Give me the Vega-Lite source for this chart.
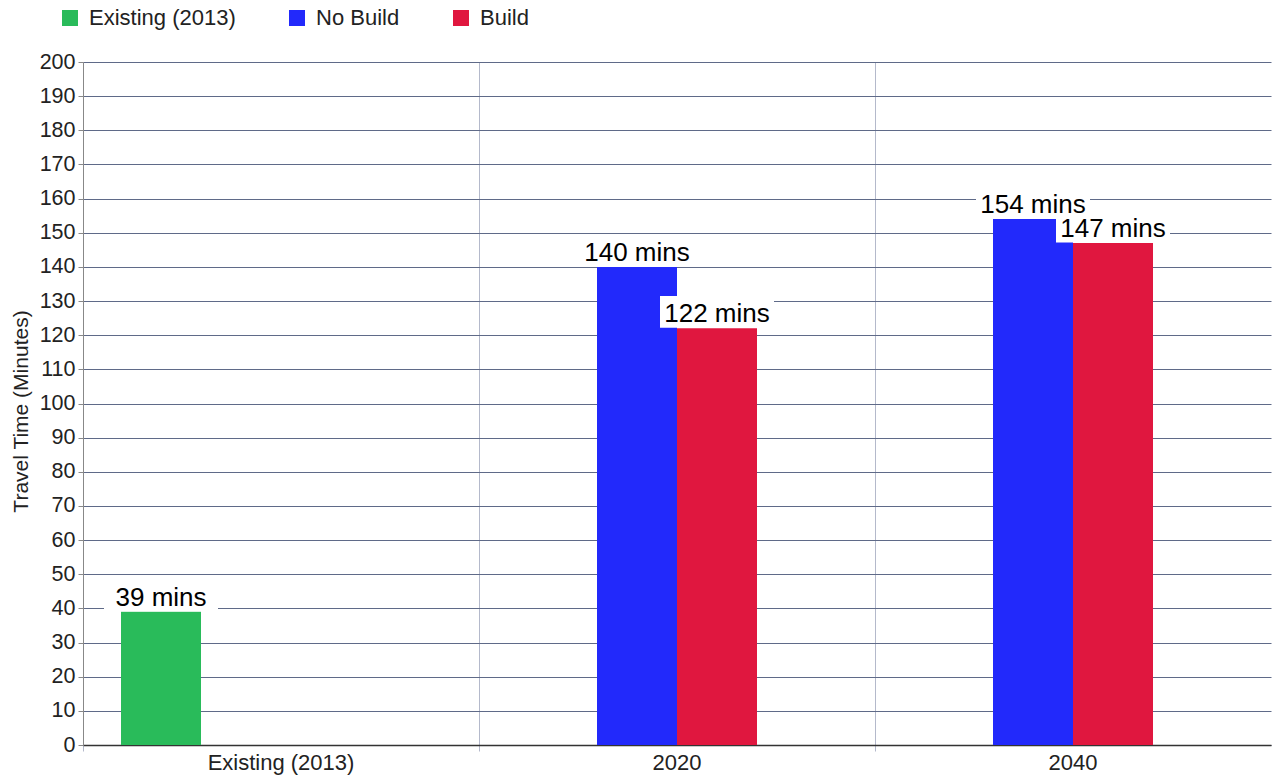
{
  "$schema": "https://vega.github.io/schema/vega-lite/v6.json",
  "width": 1188,
  "height": 683,
  "autosize": "none",
  "padding": {"left": 83, "top": 62, "right": 6, "bottom": 33},
  "background": "white",
  "config": {
    "font": "Liberation Sans",
    "view": {"stroke": null}
  },
  "data": {
    "values": [
      {"period": "Existing (2013)", "series": "Existing (2013)", "value": 39, "label": "39 mins"},
      {"period": "2020", "series": "No Build", "value": 140, "label": "140 mins"},
      {"period": "2020", "series": "Build", "value": 122, "label": "122 mins"},
      {"period": "2040", "series": "No Build", "value": 154, "label": "154 mins"},
      {"period": "2040", "series": "Build", "value": 147, "label": "147 mins"}
    ]
  },
  "encoding": {
    "x": {
      "field": "period",
      "type": "nominal",
      "sort": ["Existing (2013)", "2020", "2040"],
      "scale": {"paddingInner": 0, "paddingOuter": 0},
      "axis": {
        "title": null,
        "labelAngle": 0,
        "labelFontSize": 22,
        "labelColor": "#222",
        "bandPosition": 0,
        "labelOffset": 0,
        "grid": true,
        "gridColor": "#b4b9cb",
        "gridWidth": 1,
        "domainColor": "#333",
        "domainWidth": 1.5,
        "tickColor": "#b4b9cb",
        "tickSize": 6,
        "labelPadding": 1
      }
    },
    "xOffset": {
      "field": "series",
      "type": "nominal",
      "scale": {"domain": ["Existing (2013)", "No Build", "Build", "_"], "paddingInner": 0, "paddingOuter": 0.475}
    },
    "y": {
      "field": "value",
      "type": "quantitative",
      "scale": {"domain": [0, 200], "nice": false},
      "axis": {
        "title": "Travel Time (Minutes)",
        "titleFontSize": 21,
        "titleFontWeight": "normal",
        "titleColor": "#222",
        "titlePadding": 8,
        "titleY": 349,
        "values": [0,10,20,30,40,50,60,70,80,90,100,110,120,130,140,150,160,170,180,190,200],
        "labelFontSize": 21.5,
        "labelColor": "#222",
        "grid": true,
        "gridColor": "#5f6a88",
        "gridWidth": 1,
        "domainColor": "#888",
        "tickColor": "#888",
        "tickSize": 5,
        "labelPadding": 3
      }
    }
  },
  "layer": [
    {
      "mark": {"type": "bar"},
      "encoding": {
        "color": {
          "field": "series",
          "type": "nominal",
          "scale": {"domain": ["Existing (2013)", "No Build", "Build"], "range": ["#29bb5a", "#2229fb", "#e0173f"]},
          "legend": {
            "title": null,
            "orient": "none",
            "direction": "horizontal",
            "legendX": -24,
            "legendY": -55,
            "symbolType": "square",
            "symbolSize": 256,
            "symbolStrokeWidth": 0,
            "labelFontSize": 22,
            "labelColor": "#222",
            "labelOffset": 8,
            "columnPadding": 50
          }
        }
      }
    },
    {
      "mark": {"type": "point", "shape": "M-1,-0.28L1,-0.28L1,0.28L-1,0.28Z", "size": 12996, "filled": true, "fill": "white", "opacity": 1, "strokeWidth": 0, "yOffset": -16.5},
      "encoding": {}
    },
    {
      "mark": {"type": "text", "baseline": "alphabetic", "dy": -6, "fontSize": 26, "fill": "black"},
      "encoding": {"text": {"field": "label"}}
    }
  ]
}
